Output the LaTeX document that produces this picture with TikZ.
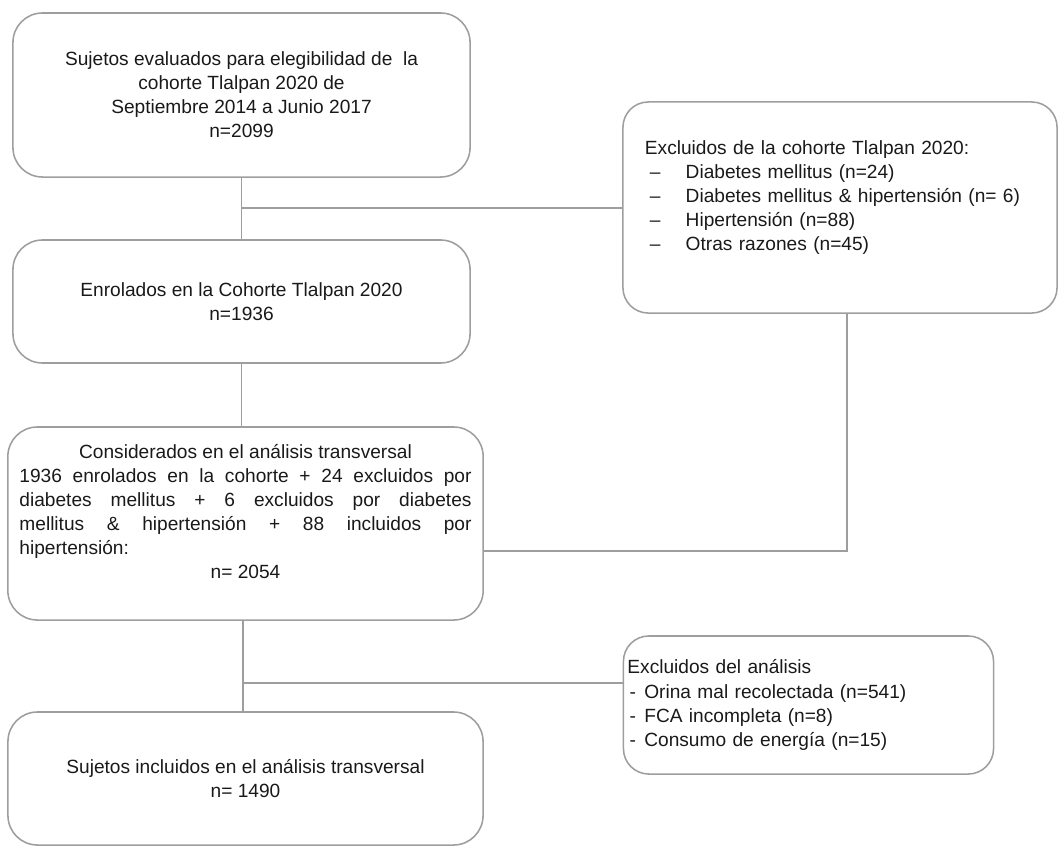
\documentclass[tikz,border=0pt]{standalone}
\usepackage{fontspec}
\setmainfont{Liberation Sans}
\usetikzlibrary{positioning,calc}
\definecolor{boxgray}{RGB}{158,158,158}
\newcommand\jfy{\leftskip=0pt \rightskip=0pt \parfillskip=0pt plus 1fil\relax}

\begin{document}
\begin{tikzpicture}[x=0.025cm, y=-0.025cm, main node/.style={rectangle,draw=boxgray,line width=1.1pt,rounded corners=21pt,minimum width=11.425cm,align=center}, side node/.style={rectangle,draw=boxgray,line width=1.1pt,rounded corners=18pt,align=left}, link/.style={draw=boxgray,line width=0.8pt}]
\useasboundingbox (0,0) rectangle (1058,848);
\begin{scope}[every node/.style={font=\fontsize{13.6}{17.1}\selectfont, text=black!90}]
\node[main node, minimum height=4.1cm] (b1) at (241.5,95) {Sujetos evaluados para elegibilidad de\ \ la\\cohorte Tlalpan 2020 de\\Septiembre 2014 a Junio 2017\\n=2099};
\node[main node, minimum height=3.075cm] (b2) at (241.5,301.5) {Enrolados en la Cohorte Tlalpan 2020\\n=1936};
\node[main node, minimum width=11.875cm, minimum height=4.825cm, inner xsep=0.29cm, text width=11.3cm, align=justify] (b3) at (245.5,523.5) {\centering Considerados en el análisis transversal\par\jfy
1936 enrolados en la cohorte + 24 excluidos por\linebreak diabetes mellitus + 6 excluidos por diabetes\linebreak mellitus \& hipertensión + 88 incluidos por\linebreak hipertensión:\par\centering n= 2054\par\mbox{}};
\node[main node, minimum width=11.875cm, minimum height=3.325cm] (b4) at (245.5,778.5) {Sujetos incluidos en el análisis transversal\\n= 1490};
\node[side node, minimum width=10.85cm, minimum height=5.275cm, inner xsep=0.55cm, text width=9.75cm] (e1) at (840,207.5) {Excluidos de la cohorte Tlalpan 2020:\\
\hspace*{3.5pt}\makebox[25.5pt][l]{--}Diabetes mellitus (n=24)\\
\hspace*{3.5pt}\makebox[25.5pt][l]{--}Diabetes mellitus \& hipertensión (n= 6)\\
\hspace*{3.5pt}\makebox[25.5pt][l]{--}Hipertensión (n=88)\\
\hspace*{3.5pt}\makebox[25.5pt][l]{--}Otras razones (n=45)\\ \mbox{}};
\node[side node, minimum width=9.25cm, minimum height=3.45cm, inner xsep=0.1cm, text width=9.05cm] (e2) at (808.5,705) {Excluidos del análisis\\
\hspace*{1.5pt}\makebox[10.5pt][l]{-}Orina mal recolectada (n=541)\\
\hspace*{1.5pt}\makebox[10.5pt][l]{-}FCA incompleta (n=8)\\
\hspace*{1.5pt}\makebox[10.5pt][l]{-}Consumo de energía (n=15)};
\end{scope}
\begin{scope}
\coordinate (j1) at (242,208);
\coordinate (j2) at (847,551);
\coordinate (j3) at (243,683);
\draw[link] (b1.south) -- (b2.north);
\draw[link] (j1) -- (e1.west |- j1);
\draw[link] (b2.south) -- (b2.south |- b3.north);
\draw[link] (e1.south -| j2) -- (j2) -- (b3.east |- j2);
\draw[link] (b3.south -| j3) -- (b4.north -| j3);
\draw[link] (j3) -- (e2.west |- j3);
\end{scope}
\end{tikzpicture}
\end{document}
